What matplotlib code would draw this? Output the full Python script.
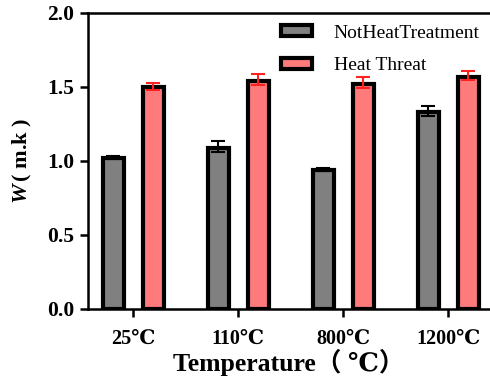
import numpy as np
import matplotlib
matplotlib.use("Agg")
from matplotlib import pyplot as plt
from matplotlib.patches import Patch

plt.rcParams['font.family'] = ['Liberation Serif', 'DejaVu Serif', 'Noto Sans CJK SC']
plt.rcParams['mathtext.fontset'] = 'custom'
plt.rcParams['mathtext.it'] = 'Liberation Serif:italic:bold'
plt.rcParams['mathtext.rm'] = 'Liberation Serif:bold'

temps = ['25℃', '110℃', '800℃', '1200℃']
not_heat = [1.02, 1.09, 0.94, 1.33]
not_heat_err = [0.012, 0.045, 0.015, 0.045]
heat = [1.50, 1.54, 1.52, 1.57]
heat_err = [0.03, 0.045, 0.045, 0.04]
labels = ['NotHeatTreatment', 'Heat Threat']

grey = '#808080'
red = '#ff7b7b'
err_red = '#ff2020'

fig = plt.figure(figsize=(4.9, 3.8), dpi=100)
ax = fig.add_axes([88 / 490, 1 - 309 / 380, (489 - 88) / 490, (309 - 13) / 380])

x = np.arange(len(temps))
w = 0.2
off = 0.19
ax.bar(x - off, not_heat, w, color=grey, edgecolor='black', linewidth=3, zorder=2)
ax.bar(x + off, heat, w, color=red, edgecolor='black', linewidth=3, zorder=2)
ax.errorbar(x - off, not_heat, yerr=[np.array(not_heat_err) * 0.6, not_heat_err], fmt='none',
            ecolor='black', elinewidth=1.5, capsize=5, capthick=1.5, zorder=3)
ax.errorbar(x + off, heat, yerr=[np.array(heat_err) * 0.6, heat_err], fmt='none',
            ecolor=err_red, elinewidth=1.5, capsize=5, capthick=1.5, zorder=3)

ax.set_xlim(-0.43, 3.39)
ax.set_ylim(0, 2.0)
ax.set_yticks([0, 0.5, 1.0, 1.5, 2.0])
ax.set_yticklabels(['0.0', '0.5', '1.0', '1.5', '2.0'])
ax.set_xticks(x)
ax.set_xticklabels(temps)
for lab in ax.get_yticklabels():
    lab.set_fontweight('bold')
    lab.set_fontsize(15.5)
for lab in ax.get_xticklabels():
    lab.set_fontweight('bold')
    lab.set_fontsize(14.5)
ax.tick_params(direction='out', length=6, width=1.8, pad=4)
ax.tick_params(axis='x', pad=8)

for s in ['left', 'bottom', 'top']:
    ax.spines[s].set_linewidth(1.8)
ax.spines['right'].set_visible(False)

ax.set_ylabel(r'$W\,$( m.k )', fontsize=16, fontweight='bold', labelpad=9)
ax.set_xlabel('Temperature（ ℃）', fontsize=18.5, fontweight='bold', labelpad=0)

handles = [Patch(facecolor=grey, edgecolor='black', linewidth=3),
           Patch(facecolor=red, edgecolor='black', linewidth=3)]
ax.legend(handles, labels, loc='upper right', bbox_to_anchor=(1.02, 1.02), frameon=False,
          fontsize=14, handlelength=1.6, handleheight=0.5, labelspacing=0.8,
          handletextpad=1.1)

fig.savefig('out.png', dpi=100)
